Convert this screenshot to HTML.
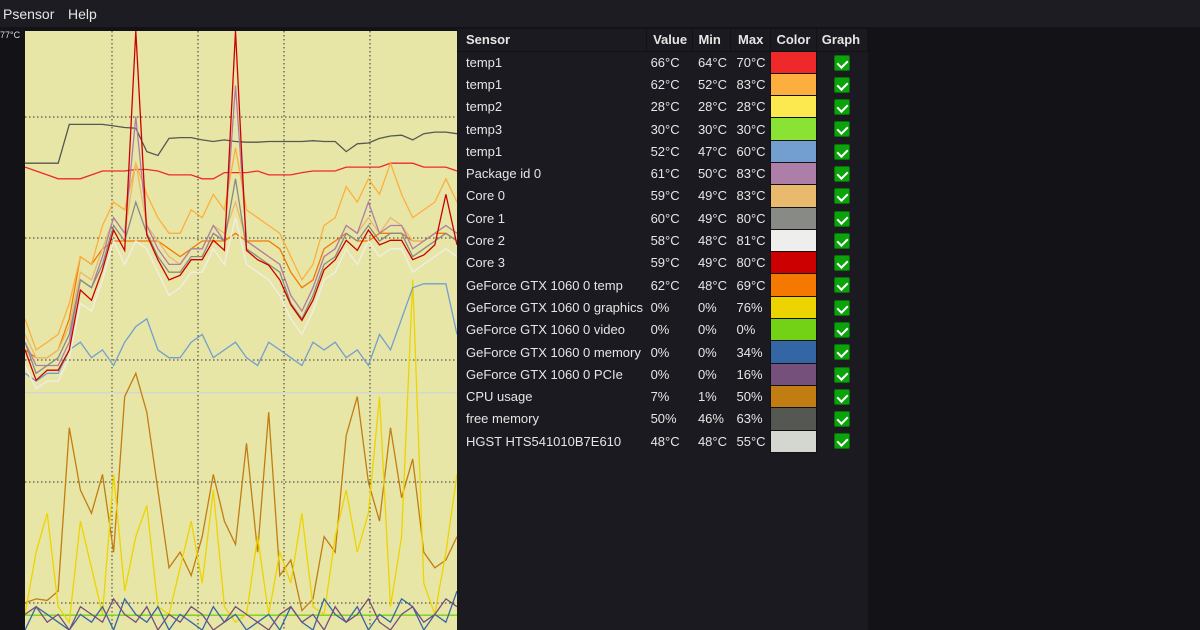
<!DOCTYPE html>
<html><head><meta charset="utf-8">
<style>
*{margin:0;padding:0;box-sizing:border-box}
body{width:1200px;height:630px;overflow:hidden;background:#121217;font-family:"Liberation Sans",sans-serif;color:#e6e6e6;position:relative}
#menubar{position:absolute;left:0;top:0;width:1200px;height:27px;background:#1d1c22;font-size:14px}
#menubar span{position:absolute;top:6px}
#ylab{position:absolute;left:0;top:30px;font-size:9px;color:#ddd}
#chart{position:absolute;left:25px;top:31px}
#panel{position:absolute;left:457px;top:29px;width:411px;height:601px;background:#1b1a20}
table{border-collapse:collapse;font-size:13px;position:absolute;left:0;top:0}
th{height:22px;text-align:left;font-weight:bold;padding:0;border-right:1px solid #121217;border-bottom:1px solid #121217;background:#1b1a20}
td{height:22.3px;padding:0;white-space:nowrap}
.sw{width:46px;border:1px solid #111}
.cb{display:inline-block;width:16px;height:16px;background:#0aa30a;border-radius:2px;border:1px solid #0b6e0b;position:relative;vertical-align:middle}
.cb:after{content:"";position:absolute;left:4px;top:2px;width:5px;height:8px;border-right:2px solid #fff;border-bottom:2px solid #fff;transform:rotate(45deg)}
</style></head><body>
<div id="menubar">
<span style="left:3px">Psensor</span>
<span style="left:68px">Help</span>
</div>
<div id="ylab">77°C</div>
<svg id="chart" width="432" height="599"></svg>
<div id="panel">
<table>
<thead><tr>
<th style="width:190px;padding-left:9px">Sensor</th><th style="width:47px;padding-left:6px">Value</th><th style="width:38px;padding-left:5px">Min</th><th style="width:41px;padding-left:7px">Max</th><th style="width:46px;padding-left:5px">Color</th><th style="width:52px;padding-left:5px">Graph</th>
</tr></thead>
<tbody id="tb"></tbody></table></div>
<script>
const names=["temp1","temp1","temp2","temp3","temp1","Package id 0","Core 0","Core 1","Core 2","Core 3","GeForce GTX 1060 0 temp","GeForce GTX 1060 0 graphics","GeForce GTX 1060 0 video","GeForce GTX 1060 0 memory","GeForce GTX 1060 0 PCIe","CPU usage","free memory","HGST HTS541010B7E610"];
const vals=["66°C","62°C","28°C","30°C","52°C","61°C","59°C","60°C","58°C","59°C","62°C","0%","0%","0%","0%","7%","50%","48°C"];
const mins=["64°C","52°C","28°C","30°C","47°C","50°C","49°C","49°C","48°C","49°C","48°C","0%","0%","0%","0%","1%","46%","48°C"];
const maxs=["70°C","83°C","28°C","30°C","60°C","83°C","83°C","80°C","81°C","80°C","69°C","76%","0%","34%","16%","50%","63%","55°C"];
const cols=["#ef2929","#fcaf3e","#fce94f","#8ae234","#729fcf","#ad7fa8","#e9b96e","#888a85","#eeeeec","#cc0000","#f57900","#edd400","#73d216","#3465a4","#75507b","#c17d11","#555753","#d3d7cf"];
const tb=document.getElementById('tb');
names.forEach((n,i)=>{
 const tr=document.createElement('tr');
 
 
 tr.innerHTML='<td style="padding-left:9px">'+n+'</td><td style="padding-left:4px">'+vals[i]+'</td><td style="padding-left:5px">'+mins[i]+'</td><td style="padding-left:6px">'+maxs[i]+'</td><td class="sw" style="background:'+cols[i]+'"></td><td style="text-align:center"><span class="cb"></span></td>';
 tb.appendChild(tr);
});
document.querySelectorAll('.cb').forEach(c=>{});
document.querySelectorAll('.sw').forEach(c=>{});
</script>
<script>
const yMax=77;
const freeMem=[60,60,60,60,65,65,65,65,64.8,64.6,64.5,61.5,61,63.2,63.3,63.3,63,62.8,63,62.8,62.7,62.7,62.8,62.8,62.8,62.8,62.9,62.8,62.8,61.5,62.5,62.6,63.2,63.5,63.6,63,63.8,64,64,63.8];
const mbTemp=[59.5,59,58.5,58,58,58,58.5,59,59,59,59.2,59.2,59,58.5,58.5,58.5,58,58,58.8,58.8,58.8,59,58.5,58.5,58.5,58.8,59,59,59,59.5,59.5,59.5,59.5,60,60,60,59.5,59.5,59.5,59];
const core3=[36,32.1,33.4,33.4,36,43.7,42.4,46.3,51.4,48.8,77,50.8,47.6,45,45.6,47.6,47.6,50.1,48.8,77,48.8,47.6,46.9,45,41.8,39.8,42.4,46.3,47.6,50.1,48.8,51.4,49.5,50.1,50.1,47.6,48.2,49.5,56,49.5];
const core1=[37,33,34,35,38,45,44,47,52,50,55,51,48,46,46,48,48,51,50,58,49,48,47,46,42,40,43,47,48,51,50,52,50,51,51,48,49,50,51,50];
const core2=[34,31,32,32,35,42,41,45,50,47,50,49,46,43,44,46,46,49,47,53,47,46,45,43,40,38,41,45,46,49,47,50,48,49,49,46,47,48,49,48];
const core0=[38,35,35,36,39,46,45,49,53,51,60,52,50,48,47,49,49,52,51,55,50,49,48,47,43,41,44,48,49,52,51,53,51,53,52,50,50,51,52,51];
const pkg=[37,34,34,34,37,45,44,48,53,51,66,52,49,47,47,49,49,52,50,70,50,49,48,47,43,41,44,48,49,52,51,55,51,52,52,49,50,51,52,51];
const tempOr=[40,36,37,38,42,48,47,52,55,54,60,56,53,51,51,54,53,56,54,62,54,53,52,51,48,45,47,52,53,57,55,58,56,60,56,53,54,55,58,55];
const gtxTemp=[36,35,35,36,40,48,47,49,50,50,50,50,50,49,48,49,50,50,50,51,50,50,50,49,46,44,45,49,50,51,50,50,51,51,51,50,50,51,51,50];
const blueT=[33,32,33,33,36,37,35,36,34,37,39,40,36,35,35,37,38,35,36,37,35,34,37,36,35,34,37,36,37,35,36,34,38,36,40,44,44.5,44.5,44.5,38];
const hgst=[30.5,30.5,30.5,30.5,30.5,30.5,30.5,30.5,30.5,30.5,30.5,30.5,30.5,30.5,30.5,30.5,30.5,30.5,30.5,30.5,30.5,30.5,30.5,30.5,30.5,30.5,30.5,30.5,30.5,30.5,30.5,30.5,30.5,30.5,30.5,30.5,30.5,30.5,30.5,30.5];
const gtxVideo=[1.9,1.9,1.9,1.9,1.9,1.9,1.9,1.9,1.9,1.9,1.9,1.9,1.9,1.9,1.9,1.9,1.9,1.9,1.9,1.9,1.9,1.9,1.9,1.9,1.9,1.9,1.9,1.9,1.9,1.9,1.9,1.9,1.9,1.9,1.9,1.9,1.9,1.9,1.9,1.9];
const cpu=[3.5,4,3.8,5,26,18,15,20,10,30,33,28,18,8,10,7,12,20,14,11,24,10,28,7,9,2.5,4,12,10,25,30,19,14,26,17,22,10,8,9,12];
const gtxGfx=[2,10,15,3,1,14,8,2,20,5,12,16,3,2,8,14,6,18,3,1,2,12,2,10,6,15,3,2,12,18,10,15,30,3,12,45,6,2,10,20];
const gtxMem=[0,3,2,1,0,2,1,3,0,4,2,1,3,0,2,1,0,3,1,2,0,1,2,0,3,1,0,4,2,1,3,0,2,1,4,3,0,2,1,5];
const pcie=[2,3,1,2,0,3,2,1,4,2,1,3,0,2,1,3,2,0,1,3,2,1,0,2,3,1,2,0,3,1,2,4,1,0,2,3,1,2,4,3];
const W=432,H=599;
const svg=document.getElementById('chart');
const NS='http://www.w3.org/2000/svg';
const xs=i=>i*W/(freeMem.length-1);
const ys=v=>H-v*H/yMax;
const bg=document.createElementNS(NS,'rect');


bg.setAttribute('width',W);bg.setAttribute('height',H);bg.setAttribute('fill','#e8e6a6');
svg.appendChild(bg);
[87,173,259,345].forEach(x=>{const l=document.createElementNS(NS,'line');


l.setAttribute('x1',x);l.setAttribute('x2',x);l.setAttribute('y1',0);l.setAttribute('y2',H);l.setAttribute('stroke','#333');l.setAttribute('stroke-dasharray','1.5,2.5');svg.appendChild(l);});
[86,207,329,451,572].forEach(y=>{const l=document.createElementNS(NS,'line');


l.setAttribute('x1',0);l.setAttribute('x2',W);l.setAttribute('y1',y);l.setAttribute('y2',y);l.setAttribute('stroke','#333');l.setAttribute('stroke-dasharray','1.5,2.5');svg.appendChild(l);});
const series=[[gtxVideo,'#73d216','series-gtx-video'],[hgst,'#d3d7cf','series-hgst'],[cpu,'#c17d11','series-cpu-usage'],[gtxGfx,'#edd400','series-gtx-graphics'],[gtxMem,'#3465a4','series-gtx-memory'],[pcie,'#75507b','series-gtx-pcie'],[blueT,'#729fcf','series-temp1-blue'],[freeMem,'#555753','series-free-memory'],[mbTemp,'#ef2929','series-temp1-red'],[gtxTemp,'#f57900','series-gtx-temp'],[tempOr,'#fcaf3e','series-temp1-orange'],[core2,'#eeeeec','series-core2'],[core0,'#e9b96e','series-core0'],[pkg,'#ad7fa8','series-package'],[core1,'#888a85','series-core1'],[core3,'#cc0000','series-core3']];
series.forEach(([d,c,n])=>{
 const p=document.createElementNS(NS,'polyline');
 
 
 p.setAttribute('points',d.map((v,i)=>xs(i).toFixed(1)+','+ys(v).toFixed(1)).join(' '));
 p.setAttribute('fill','none');p.setAttribute('stroke',c);p.setAttribute('stroke-width','1.3');
 svg.appendChild(p);
});
</script>
</body></html>
